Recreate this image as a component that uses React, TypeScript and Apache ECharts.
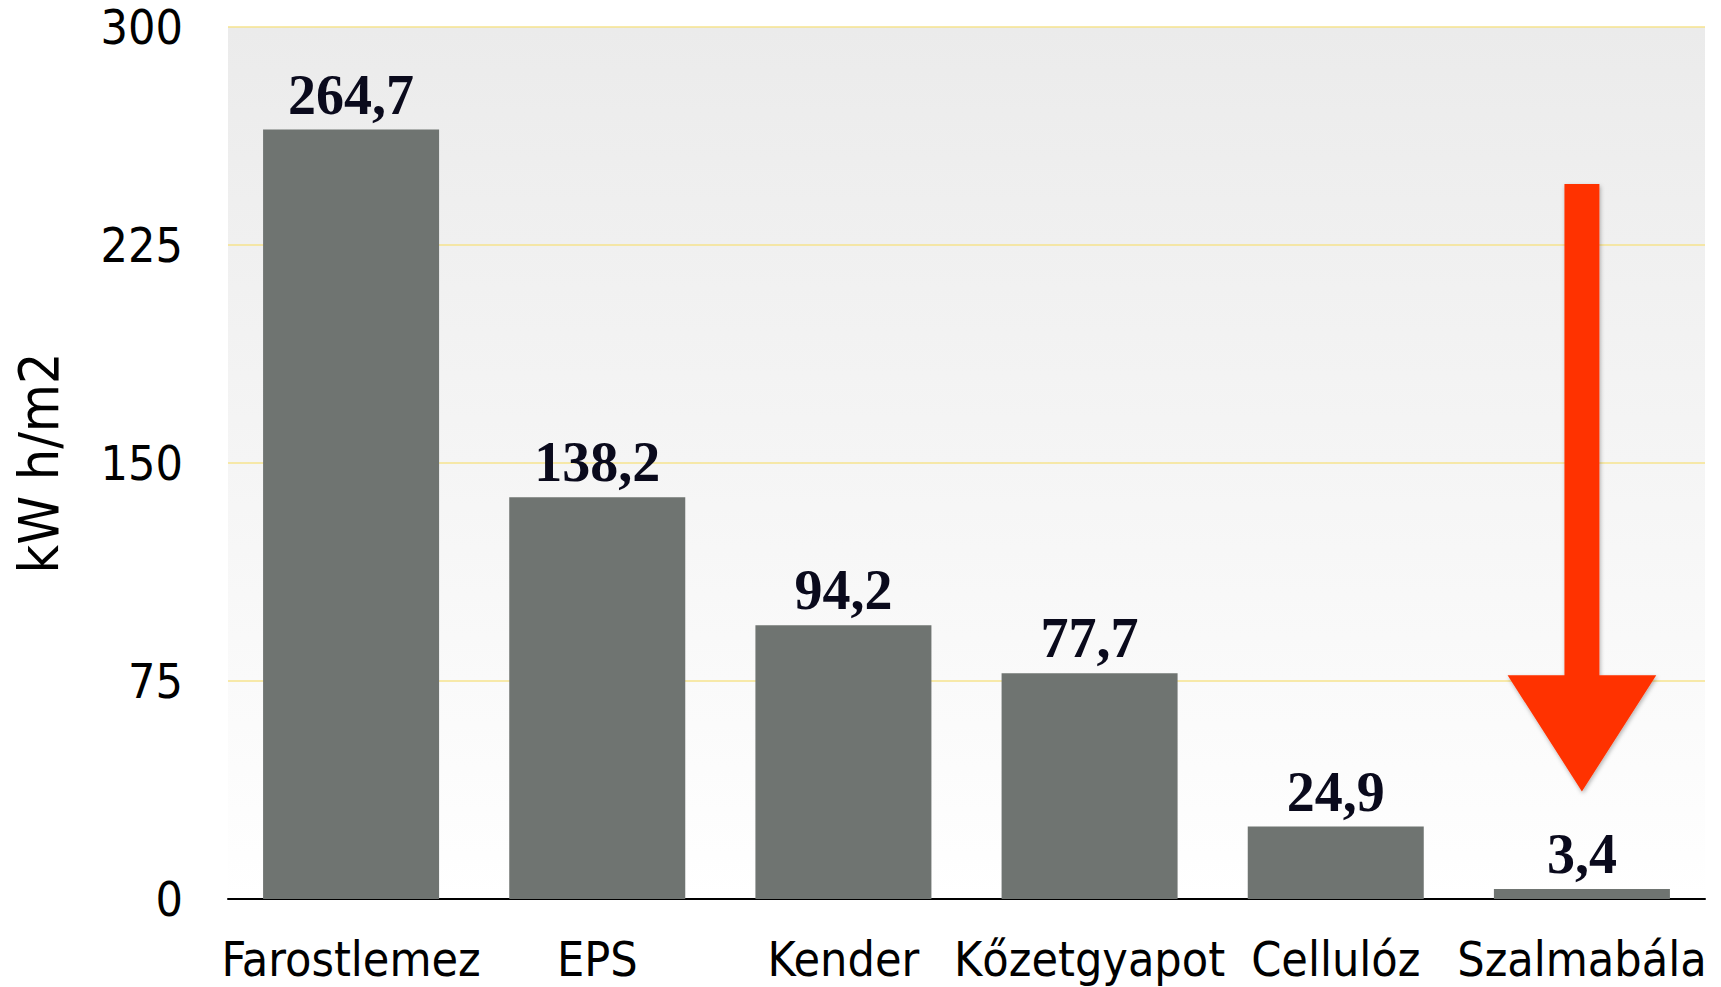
import React, { useEffect, useRef } from "react";
import * as echarts from "echarts";

const categories = ["Farostlemez", "EPS", "Kender", "Kőzetgyapot", "Cellulóz", "Szalmabála"];
const values = [264.7, 138.2, 94.2, 77.7, 24.9, 3.4];
const yMin = 0;
const yMax = 300;
const yInterval = 75;
const axisTitle = "kW h/m2";
// arrow annotation: [category index, tail value, head-base value, tip value]
const arrowCategoryIndex = 5;
const arrowTail = [246];
const arrowHeadBase = [77];
const arrowTip = [37];

const SANS = "'DejaVu Sans Condensed', 'Liberation Sans', sans-serif";

export default function App() {
  const ref = useRef<HTMLDivElement>(null);
  useEffect(() => {
    if (!ref.current) return;
    const chart = echarts.init(ref.current, undefined, { renderer: "svg" });
    const option: any = {
      animation: false,
      backgroundColor: "#ffffff",
      grid: {
        left: 228,
        right: 16,
        top: 27,
        bottom: 88,
        containLabel: false,
        outerBoundsMode: "none",
        show: true,
        borderWidth: 0,
        backgroundColor: new echarts.graphic.LinearGradient(0, 0, 0, 1, [
          { offset: 0, color: "#ebebeb" },
          { offset: 1, color: "#ffffff" },
        ]),
      },
      xAxis: {
        type: "category",
        data: categories,
        axisTick: { show: false },
        axisLine: { show: true, lineStyle: { color: "#000000", width: 2 } },
        axisLabel: {
          interval: 0,
          fontSize: 48,
          fontFamily: SANS,
          color: "#000000",
          margin: 36,
        },
        splitLine: { show: false },
      },
      yAxis: {
        type: "value",
        min: yMin,
        max: yMax,
        interval: yInterval,
        name: axisTitle,
        nameLocation: "middle",
        nameRotate: 90,
        nameGap: 162,
        nameTextStyle: { fontSize: 55, fontFamily: SANS, color: "#000000" },
        axisLine: { show: false },
        axisTick: { show: false },
        axisLabel: { fontSize: 48, fontFamily: SANS, color: "#000000", margin: 45 },
        splitLine: { show: true, lineStyle: { color: "#f6e38e", width: 1.5 } },
      },
      series: [
        {
          type: "bar",
          data: values,
          barWidth: "71.5%",
          itemStyle: { color: "#6f7471" },
          label: {
            show: true,
            position: "top",
            distance: 7,
            formatter: (p: any) => String(p.value).replace(".", ","),
            fontFamily: "'Liberation Serif', 'Times New Roman', serif",
            fontWeight: "bold",
            fontSize: 56,
            color: "#0a0a1c",
          },
        },
        {
          type: "custom",
          silent: true,
          z: 10,
          data: [[arrowCategoryIndex, arrowTail[0], arrowHeadBase[0], arrowTip[0]]],
          encode: { x: 0, y: [1, 2, 3] },
          renderItem: (params: any, api: any) => {
            const idx = api.value(0);
            const top = api.coord([idx, api.value(1)]);
            const base = api.coord([idx, api.value(2)]);
            const tip = api.coord([idx, api.value(3)]);
            const bw = api.size([1, 0])[0];
            const x = top[0];
            const sh = bw * 0.071;
            const hh = bw * 0.302;
            return {
              type: "polygon",
              shape: {
                points: [
                  [x - sh, top[1]],
                  [x + sh, top[1]],
                  [x + sh, base[1]],
                  [x + hh, base[1]],
                  [x, tip[1]],
                  [x - hh, base[1]],
                  [x - sh, base[1]],
                ],
              },
              style: {
                fill: "#ff3300",
                shadowColor: "rgba(0,0,0,0.3)",
                shadowBlur: 4,
                shadowOffsetX: 1,
                shadowOffsetY: 2,
              },
            };
          },
        },
      ],
    };
    chart.setOption(option);
    return () => chart.dispose();
  }, []);
  return (
    <div
      ref={ref}
      style={{ position: "fixed", left: 0, top: 0, width: 1721, height: 987 }}
    />
  );
}
